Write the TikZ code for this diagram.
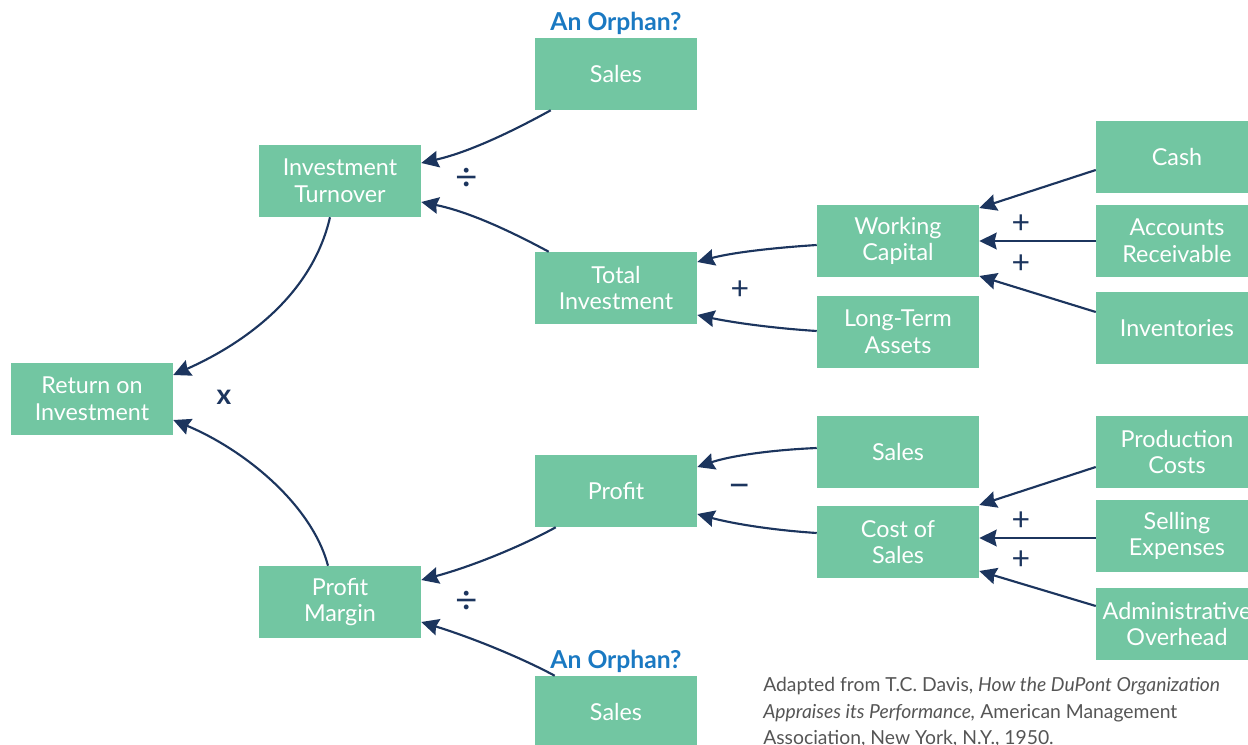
\documentclass[tikz,border=0pt]{standalone}
\usepackage{fontspec}
\setmainfont{Lato}
\usetikzlibrary{arrows.meta,calc}
\definecolor{boxg}{HTML}{72C6A2}
\definecolor{navy}{HTML}{1C355E}
\definecolor{orph}{HTML}{1A79C2}
\definecolor{notegray}{HTML}{555555}
\begin{document}
\begin{tikzpicture}[x=0.75pt,y=-0.75pt,
  box/.style={fill=boxg,text=white,minimum width=121.5pt,minimum height=54pt,inner sep=0pt,align=center,font=\fontsize{17.5}{20}\selectfont},
  arr/.style={draw=navy,line width=1.6pt,-{Stealth[length=13pt,width=12.5pt,inset=1.5pt]}},
  op/.style={text=navy,font=\fontsize{24}{24}\selectfont},
  bigop/.style={text=navy,font=\fontsize{29}{29}\selectfont},
  orphan/.style={text=orph,font=\bfseries\fontsize{18.5}{20}\selectfont}]
\useasboundingbox (0,0) rectangle (1248,745);
% boxes
\node[box] (sales1) at (616,74) {Sales};
\node[box] (it) at (340,181) {Investment\\Turnover};
\node[box] (ti) at (616,288) {Total\\Investment};
\node[box] (wc) at (898,241) {Working\\Capital};
\node[box] (lta) at (898,332) {Long-Term\\Assets};
\node[box] (cash) at (1177,157) {Cash};
\node[box] (ar) at (1177,241) {Accounts\\Receivable};
\node[box] (inv) at (1177,328) {Inventories};
\node[box] (roi) at (92,399) {Return on\\Investment};
\node[box] (profit) at (616,491) {Profit};
\node[box] (sales2) at (898,452) {Sales};
\node[box] (cos) at (898,542) {Cost of\\Sales};
\node[box] (pc) at (1177,452) {Production\\Costs};
\node[box] (se) at (1177,536) {Selling\\Expenses};
\node[box] (ao) at (1177,624) {Administrative\\Overhead};
\node[box] (pm) at (340,602) {Profit\\Margin};
\node[box] (sales3) at (616,712) {Sales};
% orphan labels
\node[orphan] (o1) at (616,23) {An Orphan?};
\node[orphan] (o2) at (616,661) {An Orphan?};
% operators
\node[bigop] (d1) at (467,179) {÷};
\node[bigop] (d2) at (467,602) {÷};
\node[op,font=\bfseries\fontsize{21}{21}\selectfont] (mx) at (224,397) {x};
\node[op] (p1) at (740,290) {+};
\node[op] (p2) at (1021,224) {+};
\node[op] (p3) at (1021,264) {+};
\node[bigop] (m1) at (740,491) {−};
\node[op] (p4) at (1021,521) {+};
\node[op] (p5) at (1021,560) {+};
% connectors
\draw[arr] ($(sales1.south west)+(16,0)$) .. controls (515,130) and (470,152) .. ($(it.east)+(0,-18)$);
\draw[arr] ($(ti.north west)+(14,0)$) .. controls (512,232) and (470,212) .. ($(it.east)+(0,21)$);
\draw[arr] ($(it.south)+(-10,0)$) .. controls (312,295) and (245,343) .. ($(roi.east)+(0,-24)$);
\draw[arr] ($(pm.north)+(-12,0)$) .. controls (312,505) and (245,450) .. ($(roi.east)+(0,21)$);
\draw[arr] ($(wc.west)+(0,4)$) .. controls (770,248) and (730,253) .. ($(ti.east)+(0,-26)$);
\draw[arr] ($(lta.west)+(0,-1)$) .. controls (770,328) and (730,322) .. ($(ti.east)+(0,27)$);
\draw[arr] ($(cash.west)+(0,13)$) -- ($(wc.east)+(0,-33)$);
\draw[arr] (ar.west) -- (wc.east);
\draw[arr] ($(inv.west)+(0,-16)$) -- ($(wc.east)+(0,35)$);
\draw[arr] ($(sales2.west)+(0,-4)$) .. controls (770,450) and (730,456) .. ($(profit.east)+(0,-24)$);
\draw[arr] ($(cos.west)+(0,-9)$) .. controls (770,530) and (730,523) .. ($(profit.east)+(0,23)$);
\draw[arr] ($(pc.west)+(0,15)$) -- ($(cos.east)+(0,-37)$);
\draw[arr] ($(se.west)+(0,2)$) -- ($(cos.east)+(0,-4)$);
\draw[arr] ($(ao.west)+(0,-18)$) -- ($(cos.east)+(0,29)$);
\draw[arr] ($(profit.south west)+(21,0)$) .. controls (520,547) and (470,567) .. ($(pm.east)+(0,-22)$);
\draw[arr] ($(sales3.north west)+(20,0)$) .. controls (520,657) and (470,637) .. ($(pm.east)+(0,20)$);
% source note
\node[anchor=north west,align=left,text=notegray,inner sep=0pt,font=\fontsize{14.5}{19.9}\selectfont] (note) at (763,677)
 {Adapted from T.C. Davis, \textit{How the DuPont Organization}\\
  \textit{Appraises its Performance,} American Management\\
  Association, New York, N.Y., 1950.};
\end{tikzpicture}
\end{document}
